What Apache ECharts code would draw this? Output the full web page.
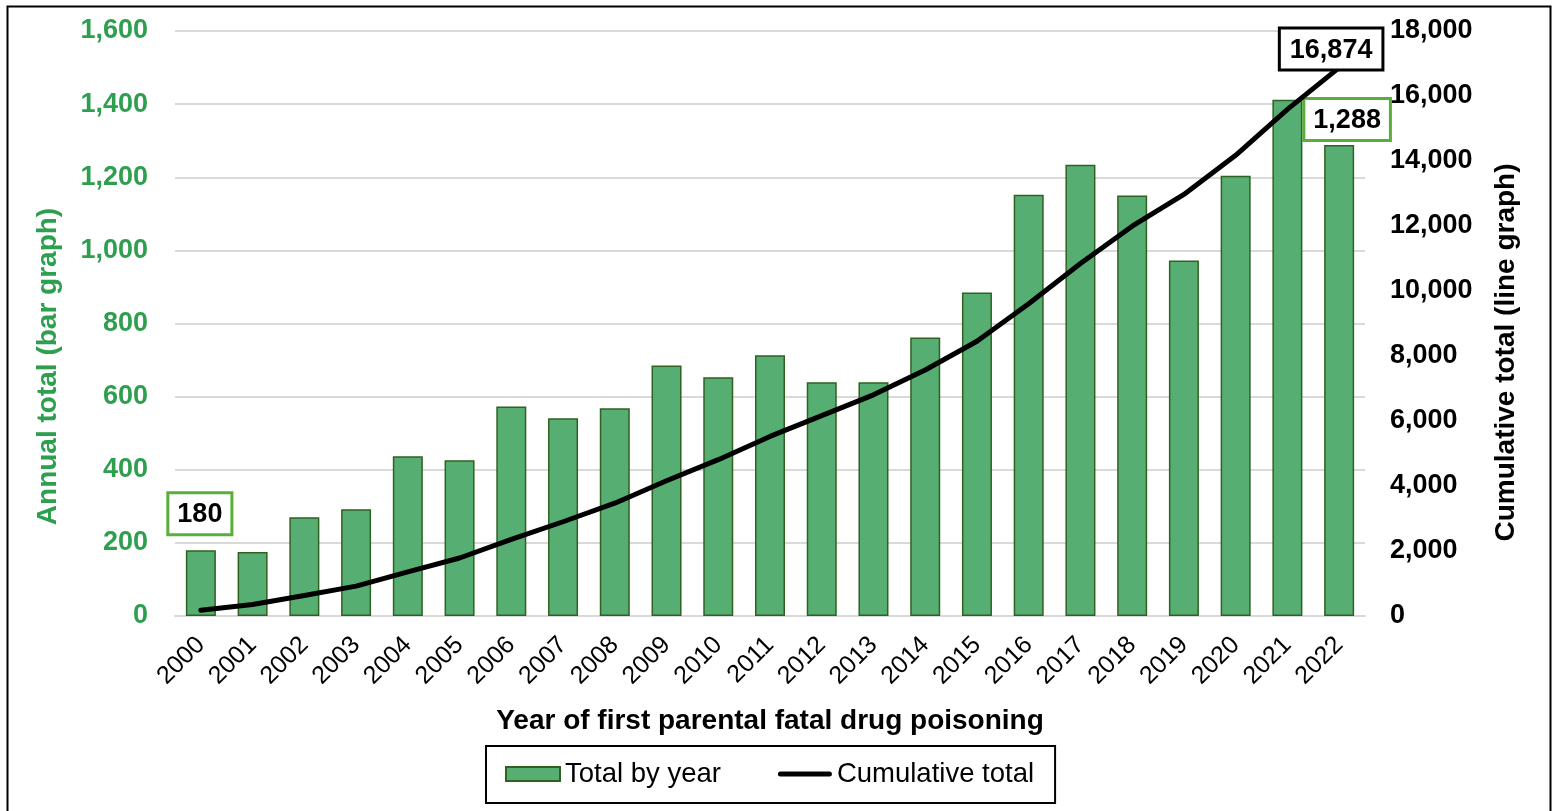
<!DOCTYPE html>
<html>
<head>
<meta charset="utf-8">
<script src="https://cdn.jsdelivr.net/npm/echarts@6/dist/echarts.min.js"></script>
<style>
html,body{margin:0;padding:0;background:#fff;}
#chart{width:1554px;height:811px;}
</style>
</head>
<body>
<div id="chart"></div>
<script>
const years = ['2000','2001','2002','2003','2004','2005','2006','2007','2008','2009','2010','2011','2012','2013','2014','2015','2016','2017','2018','2019','2020','2021','2022'];
const annualTotals = [180,175,270,292,437,426,573,541,568,685,653,713,639,639,762,885,1152,1234,1150,972,1204,1412,1288];
const cumulativeTotals = [180,355,630,920,1360,1785,2360,2900,3470,4160,4810,5525,6165,6805,7570,8455,9610,10845,11995,12970,14175,15590,16874];
const leftTicks = {min:0, max:1600, interval:200};
const rightTicks = {min:0, max:18000, interval:2000};

const FONT = '"Liberation Sans", Arial, sans-serif';
const GREEN_TEXT = '#2E9E4F';
const fmt = v => v.toLocaleString('en-US');

const boxLabel = (borderColor, extra) => Object.assign({
  show:true, position:'top', formatter:p=>fmt(p.value),
  color:'#000', fontWeight:'bold', fontSize:27, fontFamily:FONT,
  borderColor:borderColor, borderWidth:3, backgroundColor:'#fff', padding:[7,8,5,8]
}, extra);

const barData = annualTotals.map((v,i) => {
  if (i === 0) return {value:v, label:boxLabel('#5AAE3A', {distance:17, offset:[-1,0]})};
  if (i === annualTotals.length-1) return {value:v, label:boxLabel('#5AAE3A', {distance:6, offset:[8,0]})};
  return v;
});
const lineData = cumulativeTotals.map((v,i) => {
  if (i === cumulativeTotals.length-1) return {value:v, label:boxLabel('#000', {distance:-1, offset:[-8,0], padding:[7,9,5,9]})};
  return v;
});

const chart = echarts.init(document.getElementById('chart'), null, {renderer:'canvas'});
chart.setOption({
  animation:false,
  backgroundColor:'#fff',
  textStyle:{fontFamily:FONT},
  grid:{left:175, right:189, top:31, bottom:195, containLabel:false},
  graphic:[
    {type:'rect', left:5, top:4, shape:{width:1543, height:812}, style:{fill:'none', stroke:'#000', lineWidth:2}, silent:true}
  ],
  legend:{
    left:486, top:746,
    padding:[14,21,15,19],
    borderColor:'#000', borderWidth:2,
    itemGap:57, itemWidth:54, itemHeight:14,
    textStyle:{fontSize:27.5, color:'#000', fontFamily:FONT},
    data:[
      {name:'Total by year', icon:'rect'},
      {name:'Cumulative total', icon:'path://M2.5,0 H51.5 A2.5,2.5 0 0 1 51.5,5 H2.5 A2.5,2.5 0 0 1 2.5,0 Z', itemStyle:{color:'#000', borderWidth:0}}
    ]
  },
  xAxis:{
    type:'category', data:years,
    name:'Year of first parental fatal drug poisoning',
    nameLocation:'middle', nameGap:91,
    nameTextStyle:{fontSize:28, fontWeight:'bold', color:'#000', fontFamily:FONT},
    axisLine:{lineStyle:{color:'#d9d9d9', width:2}},
    axisTick:{show:false},
    axisLabel:{rotate:45, fontSize:25, color:'#000', margin:25, fontFamily:FONT}
  },
  yAxis:[
    {
      type:'value', min:leftTicks.min, max:leftTicks.max, interval:leftTicks.interval,
      name:'Annual total (bar graph)', nameLocation:'middle', nameGap:113,
      nameTextStyle:{fontSize:28, fontWeight:'bold', color:GREEN_TEXT, fontFamily:FONT, padding:[0,86,0,0]},
      axisLine:{show:false}, axisTick:{show:false},
      axisLabel:{formatter:v=>fmt(v), fontSize:27, fontWeight:'bold', color:GREEN_TEXT, margin:27, fontFamily:FONT},
      splitLine:{lineStyle:{color:'#d9d9d9', width:2}}
    },
    {
      type:'value', min:rightTicks.min, max:rightTicks.max, interval:rightTicks.interval,
      name:'Cumulative total (line graph)', nameLocation:'middle', nameGap:127,
      nameTextStyle:{fontSize:28, fontWeight:'bold', color:'#000', fontFamily:FONT, padding:[0,58,0,0]},
      axisLine:{show:false}, axisTick:{show:false},
      axisLabel:{formatter:v=>fmt(v), fontSize:27, fontWeight:'bold', color:'#000', margin:25, fontFamily:FONT},
      splitLine:{show:false}
    }
  ],
  series:[
    {
      name:'Total by year', type:'bar', yAxisIndex:0, data:barData,
      barWidth:'58%',
      itemStyle:{color:'#57AE73', borderColor:'#2F6220', borderWidth:1.5}
    },
    {
      name:'Cumulative total', type:'line', yAxisIndex:1, data:lineData,
      symbol:'circle', symbolSize:0, showSymbol:true, smooth:false,
      lineStyle:{color:'#000', width:5, cap:'round', join:'round'},
      itemStyle:{color:'#000'},
      z:3
    }
  ]
});
</script>
</body>
</html>
